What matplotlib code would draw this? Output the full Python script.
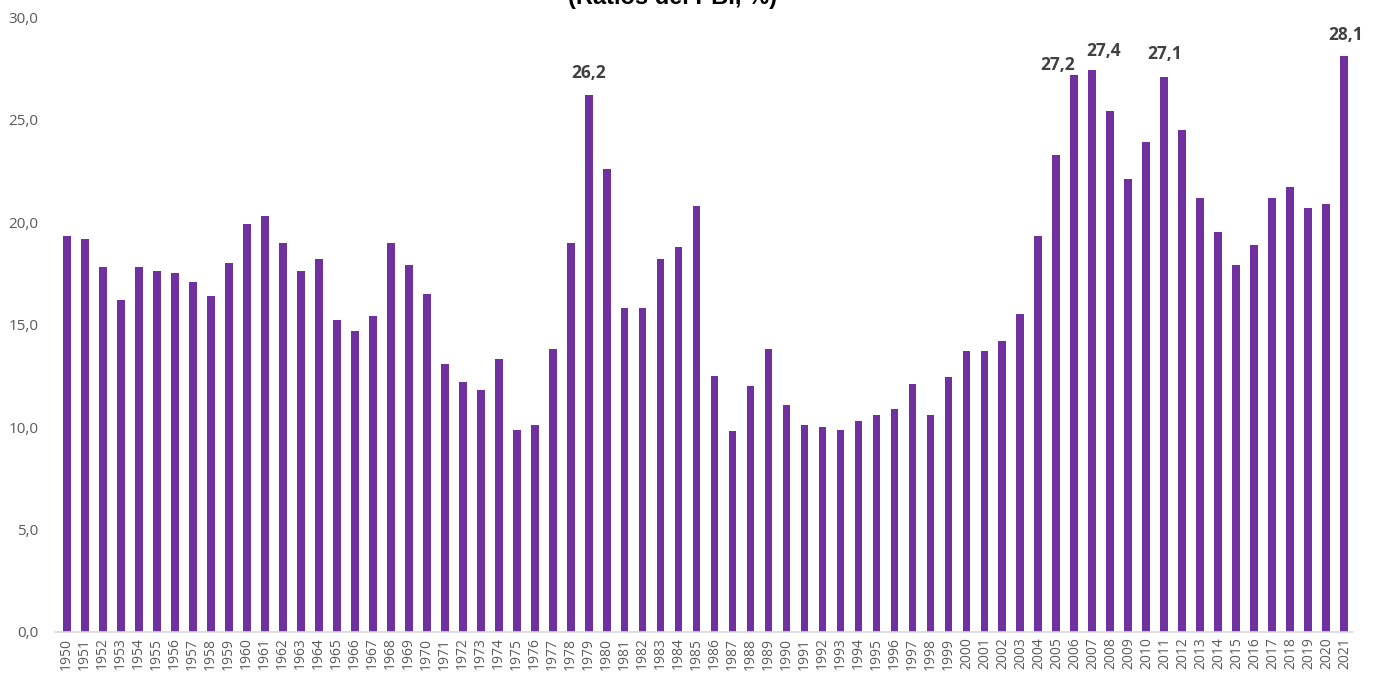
import numpy as np
import matplotlib.pyplot as plt

years = list(range(1950, 2022))
values = [19.3, 19.2, 17.8, 16.2, 17.8, 17.6, 17.5, 17.1, 16.4, 18.0,
          19.9, 20.3, 19.0, 17.6, 18.2, 15.2, 14.7, 15.4, 19.0, 17.9,
          16.5, 13.1, 12.2, 11.8, 13.3, 9.85, 10.1, 13.8, 19.0, 26.2,
          22.6, 15.8, 15.8, 18.2, 18.8, 20.8, 12.5, 9.8, 12.0, 13.8,
          11.1, 10.1, 10.0, 9.85, 10.3, 10.6, 10.9, 12.1, 10.6, 12.45,
          13.7, 13.7, 14.2, 15.5, 19.3, 23.3, 27.2, 27.4, 25.4, 22.1,
          23.9, 27.1, 24.5, 21.2, 19.5, 17.9, 18.9, 21.2, 21.7, 20.7,
          20.9, 28.1]
labeled_years = [1979, 2006, 2007, 2011, 2021]
yticks = [0, 5, 10, 15, 20, 25, 30]

plt.rcParams['font.family'] = ['Open Sans', 'DejaVu Sans']

fig = plt.figure(figsize=(13.81, 6.88), dpi=100)
ax = fig.add_axes([0.0398, 0.0814, 0.9402, 0.8936])

x = np.arange(len(years))
ax.bar(x, values, width=0.44, color='#7030A0')

# label offsets in points (dx, dy) to keep the crowded ones apart
offsets = {1979: (0, 16), 2006: (-12, 7), 2007: (8, 14), 2011: (0, 16), 2021: (1, 15)}
for yr in labeled_years:
    i = years.index(yr)
    ax.annotate(f"{values[i]:.1f}".replace('.', ','), (x[i], values[i]),
                xytext=offsets[yr], textcoords='offset points', ha='center', va='center',
                fontsize=12.5, fontweight='bold', color='#404040')

ax.set_xlim(-0.65, len(years) - 0.5)
ax.set_ylim(0, 30)
ax.set_yticks(yticks)
ax.set_yticklabels([f"{v:.1f}".replace('.', ',') for v in yticks], fontsize=11, color='#595959')
ax.set_xticks(x)
ax.set_xticklabels([str(y) for y in years], rotation=90, fontsize=10, color='#595959')
ax.tick_params(axis='both', length=0)
ax.tick_params(axis='y', pad=12)
ax.tick_params(axis='x', pad=4)

for s in ['top', 'right', 'left']:
    ax.spines[s].set_visible(False)
ax.spines['bottom'].set_color('#D9D9D9')
ax.spines['bottom'].set_linewidth(1.2)

fig.text(0.487, 1 - 9 / 688, "(Ratios del PBI, %)", ha='center', va='bottom',
         fontsize=17, fontweight='bold', family='Liberation Sans', color='black')

fig.savefig('out.png', dpi=100)
